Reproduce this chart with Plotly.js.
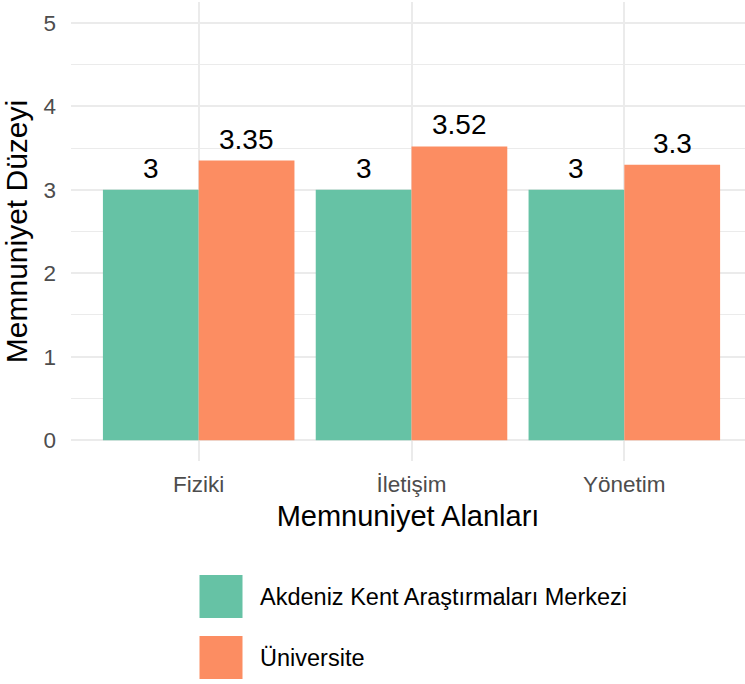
<!DOCTYPE html>
<html>
<head>
<meta charset="utf-8">
<script src="https://cdn.plot.ly/plotly-3.0.1.min.js"></script>
<style>html,body{margin:0;padding:0;background:#fff;}#chart{width:745px;height:684px;}</style>
</head>
<body>
<div id="chart"></div>
<script>
const categories = ["Fiziki", "İletişim", "Yönetim"];
const seriesNames = ["Akdeniz Kent Araştırmaları Merkezi", "Üniversite"];
const merkezValues = [3, 3, 3];
const universiteValues = [3.35, 3.52, 3.3];
const labelsMerkez = ["3", "3", "3"];
const labelsUniversite = ["3.35", "3.52", "3.3"];
const colors = ["#66C2A5", "#FC8D62"];

const FONT = "Liberation Sans, Arial, sans-serif";
const values = [merkezValues, universiteValues];
const labels = [labelsMerkez, labelsUniversite];

const traces = values.map((v, i) => ({
  type: "bar",
  name: seriesNames[i],
  x: categories,
  y: v,
  marker: {color: colors[i], line: {width: 0}},
  hoverinfo: "x+y+name",
  showlegend: false
}));

const L = 71, R = 0, T = 2, B = 223, W = 745, H = 684;
const pw = W - L - R, ph = H - T - B;
const xr = [-0.6, 2.567];
const pxPerCat = pw / (xr[1] - xr[0]);
const dodge = 0.225 * pxPerCat;

const annotations = [];
values.forEach((v, i) => {
  v.forEach((val, j) => {
    annotations.push({
      x: categories[j], y: val, xref: "x", yref: "y",
      text: labels[i][j], showarrow: false,
      xshift: (i === 0 ? -dodge : dodge),
      yanchor: "bottom", yshift: 4,
      font: {family: FONT, size: 28, color: "#000000"}
    });
  });
});

// custom legend
const px2x = p => (p - L) / pw;
const px2y = p => (H - B - p) / ph;
const shapes = [];
const keyTops = [575, 636];
seriesNames.forEach((name, i) => {
  const top = keyTops[i];
  shapes.push({
    type: "rect", xref: "paper", yref: "paper",
    x0: px2x(199.5), x1: px2x(242.5), y0: px2y(top), y1: px2y(top + 43),
    fillcolor: colors[i], line: {width: 0}
  });
  annotations.push({
    xref: "paper", yref: "paper", x: px2x(258), y: px2y(top + 21.5),
    xanchor: "left", yanchor: "middle", showarrow: false,
    text: name, font: {family: FONT, size: 23.5, color: "#000000"}
  });
});

const layout = {
  width: W, height: H,
  margin: {l: L, r: R, t: T, b: B, pad: 0},
  paper_bgcolor: "#ffffff", plot_bgcolor: "#ffffff",
  barmode: "group", bargap: 0.1, bargroupgap: 0,
  showlegend: false,
  font: {family: FONT},
  xaxis: {
    type: "category", range: xr,
    showgrid: true, gridcolor: "#EBEBEB", gridwidth: 1.6,
    zeroline: false, showline: false, ticks: "",
    ticklabelstandoff: 7,
    tickfont: {family: FONT, size: 22.5, color: "#4D4D4D"},
    title: {text: "Memnuniyet Alanları", standoff: 10, font: {family: FONT, size: 29, color: "#000000"}}
  },
  yaxis: {
    range: [-0.25, 5.25], dtick: 1, tick0: 0,
    showgrid: true, gridcolor: "#EBEBEB", gridwidth: 1.6,
    minor: {dtick: 0.5, tick0: 0, showgrid: true, gridcolor: "#EBEBEB", gridwidth: 0.9},
    zeroline: false, showline: false, ticks: "",
    ticklabelstandoff: 14,
    tickfont: {family: FONT, size: 22.5, color: "#4D4D4D"},
    title: {text: "Memnuniyet Düzeyi", standoff: 7, font: {family: FONT, size: 30, color: "#000000"}}
  },
  annotations: annotations,
  shapes: shapes
};

Plotly.newPlot("chart", traces, layout, {displayModeBar: false, responsive: false});
</script>
</body>
</html>
